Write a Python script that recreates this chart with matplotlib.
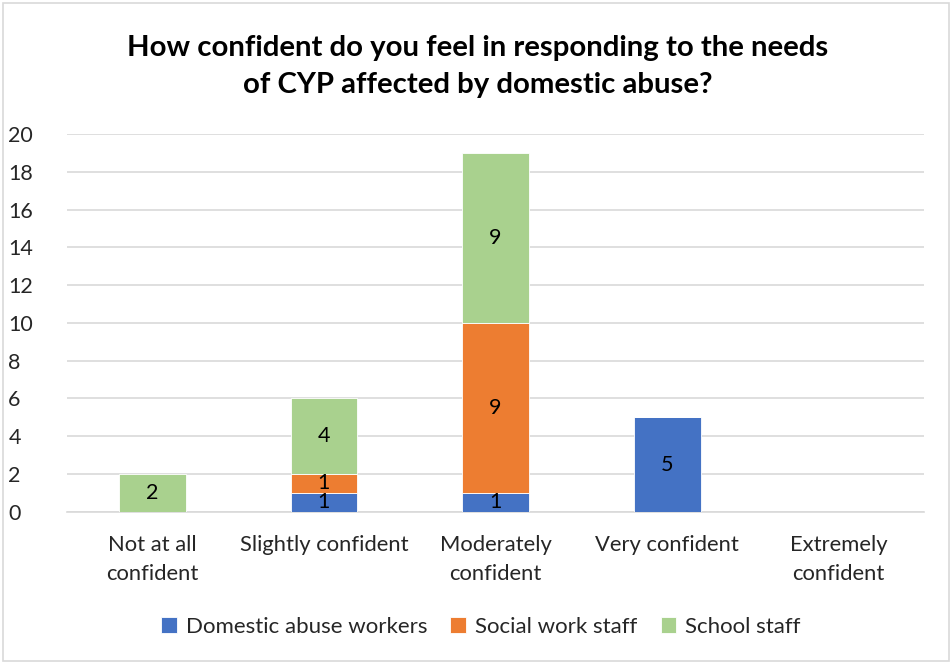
import matplotlib
matplotlib.use("Agg")
import matplotlib.pyplot as plt
from matplotlib.patches import Rectangle

plt.rcParams['font.family'] = ['Lato', 'DejaVu Sans']

categories = ["Not at all\nconfident", "Slightly confident", "Moderately\nconfident",
              "Very confident", "Extremely\nconfident"]
series_names = ["Domestic abuse workers", "Social work staff", "School staff"]
domestic_abuse = [0, 1, 1, 5, 0]
social_work = [0, 1, 9, 0, 0]
school_staff = [2, 4, 9, 0, 0]
colors = ["#4472C4", "#ED7D31", "#A9D18E"]
y_ticks = [0, 2, 4, 6, 8, 10, 12, 14, 16, 18, 20]

fig = plt.figure(figsize=(9.52, 6.63), dpi=100)
fig.patches.append(Rectangle((0.003, 0.003), 0.994, 0.993, transform=fig.transFigure,
                             fill=False, edgecolor="#D9D9D9", linewidth=1.2))

ax = fig.add_axes([0.070, 0.228, 0.901, 0.570])
x = list(range(len(categories)))
bottom = [0] * len(categories)
for name, vals, col in zip(series_names, [domestic_abuse, social_work, school_staff], colors):
    ax.bar(x, vals, width=0.39, bottom=bottom, color=col, label=name,
           edgecolor="white", linewidth=0.6, zorder=3)
    for xi, v, b in zip(x, vals, bottom):
        if v > 0:
            ax.text(xi, b + v / 2, str(v), ha="center", va="center",
                    fontsize=15.5, color="#000000", zorder=4)
    bottom = [b + v for b, v in zip(bottom, vals)]

ax.set_xlim(-0.5, 4.5)
ax.set_ylim(0, 20)
ax.set_yticks(y_ticks)
ax.set_xticks(x)
ax.set_xticklabels(categories, fontsize=15.8, color="#262626", linespacing=1.55)
ax.tick_params(axis="y", labelsize=15.5, labelcolor="#262626", length=0)
ax.tick_params(axis="x", length=0, pad=17)
ax.grid(axis="y", color="#D9D9D9", linewidth=1.2, zorder=0)
for s in ["top", "right", "left"]:
    ax.spines[s].set_visible(False)
ax.spines["bottom"].set_color("#D9D9D9")
ax.spines["bottom"].set_linewidth(1.2)
for lbl in ax.get_yticklabels():
    lbl.set_horizontalalignment("left")
ax.yaxis.set_tick_params(pad=42)

fig.text(0.502, 0.900, "How confident do you feel in responding to the needs\nof CYP affected by domestic abuse?",
         ha="center", va="center", fontsize=21.2, fontweight="bold", color="#000000", linespacing=1.5)

fig.legend(loc="center", bbox_to_anchor=(0.505, 0.055), ncol=3, frameon=False,
           fontsize=16, handlelength=0.7, handleheight=0.7, handletextpad=0.4,
           columnspacing=1.05, labelcolor="#262626")

fig.savefig("out.png", dpi=100)
